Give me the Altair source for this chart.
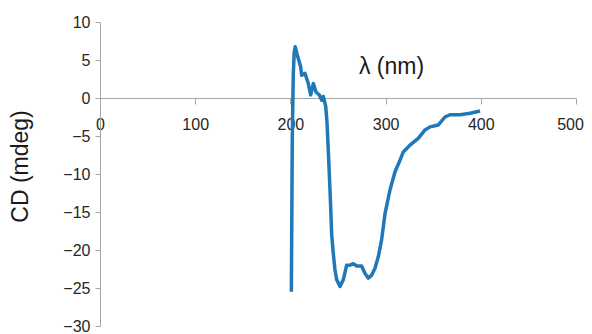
import altair as alt
import pandas as pd

wavelength = [201, 202, 203, 204, 205, 207.2, 210.8, 211.8, 215.3, 218.8, 221.3, 224.1, 226.9,
              230.4, 232.9, 234.6, 237.1, 238.5, 240, 241.6, 243.4, 245.1, 246.8, 248.6, 252.1,
              255.6, 259.1, 262.6, 266.1, 269.6, 274.8, 278.4, 281.8, 285.4, 288.9, 292.3, 295.9,
              299.4, 304.6, 309.9, 315.1, 318.6, 325.6, 334.3, 341.4, 346.6, 355.4, 362.4, 367.6,
              378.2, 388.7, 399.2]
cd = [-25.5, -5.0, 3.0, 6.0, 6.75, 5.66, 4.1, 3.0, 3.25, 1.9, 0.4, 1.9, 0.8,
      0.4, -0.3, 0.2, -1.1, -3.3, -7.5, -12.1, -18.0, -20.5, -22.6, -23.9, -24.8,
      -23.9, -22.0, -22.0, -21.8, -22.1, -22.1, -23.1, -23.7, -23.3, -22.4, -20.9, -18.6,
      -15.2, -12.1, -9.7, -8.2, -7.1, -6.2, -5.3, -4.2, -3.8, -3.55, -2.5, -2.2,
      -2.2, -2.0, -1.7]

df = pd.DataFrame({"idx": list(range(len(wavelength))), "wl": wavelength, "cd": cd})

FONT = "Liberation Sans"

chart = alt.Chart(df).mark_line(color="#1f78b8", strokeWidth=3.5, strokeJoin="round").encode(
    x=alt.X("wl:Q", scale=alt.Scale(domain=[0, 500], nice=False, zero=False),
            axis=alt.Axis(title="λ (nm)", values=[0, 100, 200, 300, 400, 500], grid=False,
                          offset=-228, tickSize=6, labelPadding=12, labelFontSize=16,
                          labelFlush=False, labelOverlap=False,
                          labelOffset={"condition": {"test": "datum.value >= 500", "value": -6},
                                       "value": 0},
                          labelFont=FONT, labelColor="#262626", domainColor="#a6a6a6",
                          tickColor="#a6a6a6", titleFont=FONT, titleFontSize=23,
                          titleFontWeight="normal", titleColor="#1a1a1a",
                          titleX=291, titleY=-32, titleAnchor="middle", titleBaseline="middle")),
    y=alt.Y("cd:Q", scale=alt.Scale(domain=[-30, 10], nice=False, zero=False),
            axis=alt.Axis(title="CD (mdeg)", values=[10, 5, 0, -5, -10, -15, -20, -25, -30],
                          grid=False, tickSize=5, labelPadding=5, labelFontSize=16,
                          labelFlush=False, labelOverlap=False,
                          labelFont=FONT, labelColor="#262626", domainColor="#a6a6a6",
                          tickColor="#a6a6a6", titleFont=FONT, titleFontSize=23,
                          titleFontWeight="normal", titleColor="#1a1a1a",
                          titleX=-80, titleY=144, titleAnchor="middle", titleBaseline="middle")),
    order="idx:Q",
).properties(
    width=476, height=304,
    autosize=alt.AutoSizeParams(type="none"),
    padding={"left": 92, "top": 14, "right": 8, "bottom": 8},
).configure_view(stroke=None)

chart.save("out.html", embed_options={"renderer": "svg", "actions": False})
